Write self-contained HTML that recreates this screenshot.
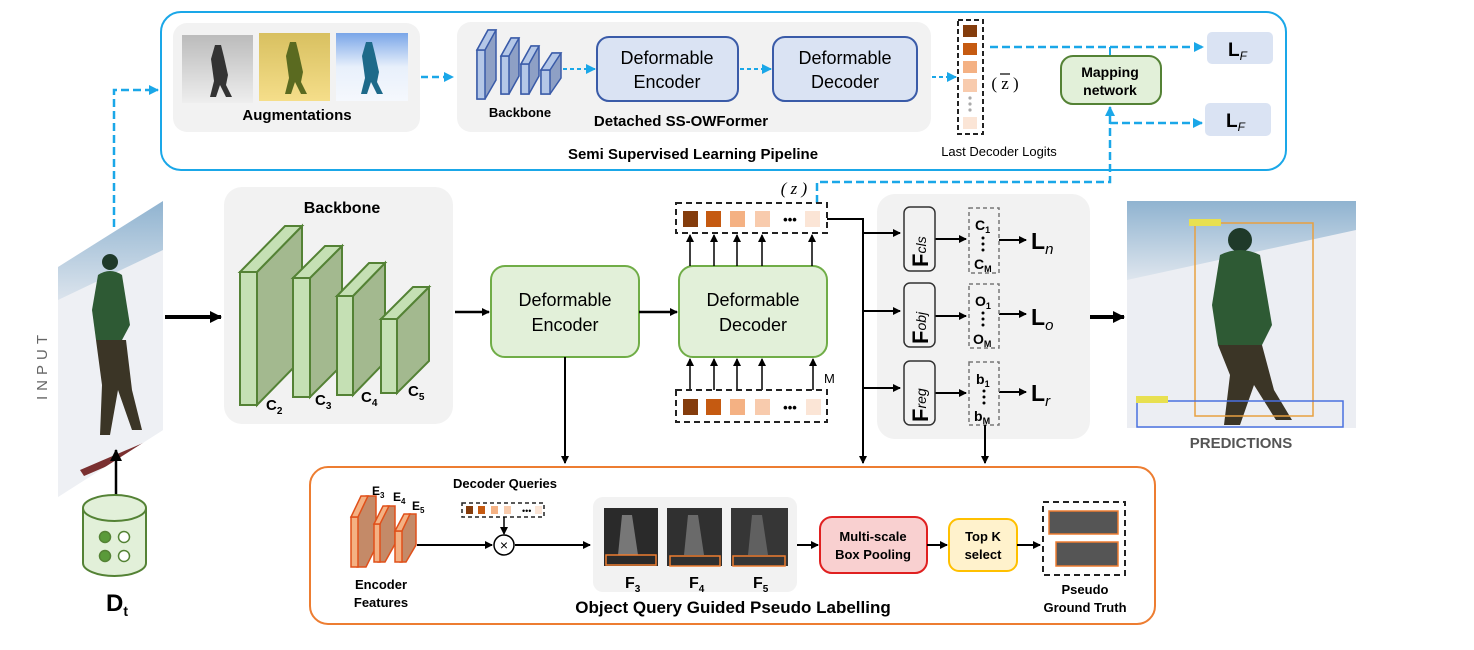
<!DOCTYPE html>
<html><head><meta charset="utf-8"><style>
html,body{margin:0;padding:0;background:#fff;}
svg{display:block;font-family:"Liberation Sans",sans-serif;}
</style></head><body>
<svg width="1474" height="650" viewBox="0 0 1474 650" xmlns="http://www.w3.org/2000/svg">
<defs>
<marker id="ab" markerWidth="8" markerHeight="8" refX="7" refY="4" orient="auto" markerUnits="userSpaceOnUse"><path d="M0,0 L8,4 L0,8 z" fill="#000"/></marker>
<marker id="abb" markerWidth="12" markerHeight="12" refX="11" refY="6" orient="auto" markerUnits="userSpaceOnUse"><path d="M0,0 L12,6 L0,12 z" fill="#000"/></marker>
<marker id="ac" markerWidth="10" markerHeight="10" refX="9" refY="5" orient="auto" markerUnits="userSpaceOnUse"><path d="M0,0 L10,5 L0,10 z" fill="#1aa7e8"/></marker>
<linearGradient id="sky" x1="0" y1="0" x2="0" y2="1"><stop offset="0" stop-color="#8fb3d0"/><stop offset="0.35" stop-color="#dfe6ee"/><stop offset="1" stop-color="#f2f3f7"/></linearGradient>
<linearGradient id="gr" x1="0" y1="0" x2="0" y2="1"><stop offset="0" stop-color="#bbb"/><stop offset="1" stop-color="#eee"/></linearGradient>
<linearGradient id="ye" x1="0" y1="0" x2="0" y2="1"><stop offset="0" stop-color="#d8c060"/><stop offset="1" stop-color="#f5de8a"/></linearGradient>
<linearGradient id="bl" x1="0" y1="0" x2="0" y2="1"><stop offset="0" stop-color="#7aa6e8"/><stop offset="0.5" stop-color="#e8f0fb"/><stop offset="1" stop-color="#f5f8fd"/></linearGradient>
<clipPath id="inp"><polygon points="58,267 163,201 163,430 58,497"/></clipPath>
</defs>

<!-- ===== TOP SSL PIPELINE ===== -->
<rect x="161" y="12" width="1125" height="158" rx="20" fill="#fff" stroke="#1aa7e8" stroke-width="2"/>
<rect x="173" y="23" width="247" height="109" rx="14" fill="#f2f2f2"/>
<rect x="182" y="35" width="71" height="68" fill="url(#gr)"/>
<path d="M215,45 l6,0 l3,12 l4,18 l-2,10 l6,12 l-6,0 l-6,-12 l-4,12 l-6,0 l4,-16 l-3,-22z" fill="#333"/>
<rect x="259" y="33" width="71" height="68" fill="url(#ye)"/>
<path d="M290,42 l6,0 l3,12 l4,18 l-2,10 l6,12 l-6,0 l-6,-12 l-4,12 l-6,0 l4,-16 l-3,-22z" fill="#5a6a20"/>
<rect x="336" y="33" width="72" height="68" fill="url(#bl)"/>
<path d="M366,42 l6,0 l3,12 l4,18 l-2,10 l6,12 l-6,0 l-6,-12 l-4,12 l-6,0 l4,-16 l-3,-22z" fill="#1e6a8a"/>
<text x="297" y="120" font-size="15" font-weight="bold" text-anchor="middle">Augmentations</text>
<line x1="421" y1="77" x2="453" y2="77" stroke="#1aa7e8" stroke-width="2.5" stroke-dasharray="7,4" marker-end="url(#ac)"/>

<rect x="457" y="22" width="474" height="110" rx="14" fill="#f2f2f2"/>
<!-- blue backbone blocks -->
<g stroke="#3a5ba8" stroke-width="1.5">
<polygon points="477,99 477,50 488,30 496,30 496,80 485,99" fill="#8ea0c5"/><rect x="477" y="50" width="8" height="49" fill="#b4c7e7"/><polygon points="477,50 488,30 496,30 485,50" fill="#b4c7e7"/>
<polygon points="501,94 501,56 511,38 519,38 519,76 509,94" fill="#8ea0c5"/><rect x="501" y="56" width="8" height="38" fill="#b4c7e7"/><polygon points="501,56 511,38 519,38 509,56" fill="#b4c7e7"/>
<polygon points="521,94 521,64 531,46 539,46 539,76 529,94" fill="#8ea0c5"/><rect x="521" y="64" width="8" height="30" fill="#b4c7e7"/><polygon points="521,64 531,46 539,46 529,64" fill="#b4c7e7"/>
<polygon points="541,94 541,70 552,53 561,53 561,78 550,94" fill="#8ea0c5"/><rect x="541" y="70" width="9" height="24" fill="#b4c7e7"/><polygon points="541,70 552,53 561,53 550,70" fill="#b4c7e7"/>
</g>
<text x="520" y="117" font-size="13" font-weight="bold" text-anchor="middle">Backbone</text>
<line x1="563" y1="69" x2="595" y2="69" stroke="#1aa7e8" stroke-width="2" stroke-dasharray="4,3" marker-end="url(#ac)"/>
<rect x="597" y="37" width="141" height="64" rx="12" fill="#dae3f3" stroke="#3a5ba8" stroke-width="2"/>
<text x="667" y="64" font-size="18" text-anchor="middle">Deformable</text>
<text x="667" y="88" font-size="18" text-anchor="middle">Encoder</text>
<line x1="740" y1="69" x2="771" y2="69" stroke="#1aa7e8" stroke-width="2" stroke-dasharray="4,3" marker-end="url(#ac)"/>
<rect x="773" y="37" width="144" height="64" rx="12" fill="#dae3f3" stroke="#3a5ba8" stroke-width="2"/>
<text x="845" y="64" font-size="18" text-anchor="middle">Deformable</text>
<text x="845" y="88" font-size="18" text-anchor="middle">Decoder</text>
<text x="681" y="126" font-size="15" font-weight="bold" text-anchor="middle">Detached SS-OWFormer</text>
<text x="693" y="159" font-size="15" font-weight="bold" text-anchor="middle">Semi Supervised Learning Pipeline</text>

<line x1="932" y1="77" x2="956" y2="77" stroke="#1aa7e8" stroke-width="2" stroke-dasharray="4,3" marker-end="url(#ac)"/>
<rect x="958" y="20" width="25" height="114" fill="none" stroke="#222" stroke-width="2" stroke-dasharray="5,3"/>
<rect x="963" y="25" width="14" height="12" fill="#843c0c"/>
<rect x="963" y="43" width="14" height="12" fill="#c55a11"/>
<rect x="963" y="61" width="14" height="12" fill="#f4b183"/>
<rect x="963" y="79" width="14" height="13" fill="#f8cbad"/>
<circle cx="970" cy="98" r="1.6" fill="#aaa"/><circle cx="970" cy="104" r="1.6" fill="#aaa"/><circle cx="970" cy="110" r="1.6" fill="#aaa"/>
<rect x="963" y="117" width="14" height="12" fill="#fbe5d6"/>
<text x="1005" y="89" font-size="17" font-family="Liberation Serif,serif" text-anchor="middle">( z )</text>
<line x1="1000" y1="74" x2="1010" y2="74" stroke="#000" stroke-width="1.2"/>
<text x="999" y="156" font-size="13" text-anchor="middle">Last Decoder Logits</text>

<line x1="990" y1="47" x2="1203" y2="47" stroke="#1aa7e8" stroke-width="2.5" stroke-dasharray="8,4" marker-end="url(#ac)"/>
<line x1="1110" y1="47" x2="1110" y2="56" stroke="#1aa7e8" stroke-width="2"/>
<rect x="1061" y="56" width="100" height="48" rx="12" fill="#e2f0d9" stroke="#548235" stroke-width="2"/>
<text x="1110" y="77" font-size="14" font-weight="bold" text-anchor="middle">Mapping</text>
<text x="1110" y="95" font-size="14" font-weight="bold" text-anchor="middle">network</text>
<rect x="1207" y="32" width="66" height="32" rx="5" fill="#dae3f3"/>
<text x="1228" y="56" font-size="19" font-weight="bold">L<tspan font-size="12" font-style="italic" font-weight="normal" dy="4">F</tspan></text>
<rect x="1205" y="103" width="66" height="33" rx="5" fill="#dae3f3"/>
<text x="1226" y="127" font-size="19" font-weight="bold">L<tspan font-size="12" font-style="italic" font-weight="normal" dy="4">F</tspan></text>
<line x1="1110" y1="123" x2="1202" y2="123" stroke="#1aa7e8" stroke-width="2.5" stroke-dasharray="8,4" marker-end="url(#ac)"/>
<polyline points="817,203 817,182 1110,182 1110,107" fill="none" stroke="#1aa7e8" stroke-width="2.5" stroke-dasharray="8,4" marker-end="url(#ac)"/>

<!-- left dashed -->
<polyline points="114,227 114,90 158,90" fill="none" stroke="#1aa7e8" stroke-width="2.5" stroke-dasharray="8,4" marker-end="url(#ac)"/>

<!-- INPUT image -->
<g clip-path="url(#inp)">
<rect x="58" y="200" width="106" height="300" fill="url(#sky)"/>
<path d="M58,300 L163,250 L163,440 L58,500z" fill="#eef0f4"/>
<circle cx="110" cy="262" r="8" fill="#1f3a2a"/>
<path d="M98,275 q12,-8 24,0 l8,50 l-8,15 l-26,0 l-4,-30z" fill="#2e5a34"/>
<path d="M96,340 l30,0 l6,50 l10,40 l-10,0 l-14,-40 l-8,45 l-10,0 l2,-50z" fill="#3b3526"/>
<path d="M80,470 l70,-30 l4,6 l-70,30z" fill="#7a3030"/>
</g>
<text transform="translate(47,400) rotate(-90)" font-size="15" fill="#666" letter-spacing="5">INPUT</text>

<!-- Dt -->
<line x1="116" y1="495" x2="116" y2="450" stroke="#000" stroke-width="2.5" marker-end="url(#abb)"/>
<path d="M83,508 L83,563 A31.5,13 0 0 0 146,563 L146,508" fill="#e2f0d9" stroke="#548235" stroke-width="2"/>
<ellipse cx="114.5" cy="508" rx="31.5" ry="13" fill="#e2f0d9" stroke="#548235" stroke-width="2"/>
<circle cx="105" cy="537" r="5.5" fill="#5a9a3a" stroke="#548235" stroke-width="1.5"/>
<circle cx="124" cy="537" r="5.5" fill="#fff" stroke="#548235" stroke-width="1.5"/>
<circle cx="105" cy="556" r="5.5" fill="#5a9a3a" stroke="#548235" stroke-width="1.5"/>
<circle cx="124" cy="556" r="5.5" fill="#fff" stroke="#548235" stroke-width="1.5"/>
<text x="106" y="611" font-size="24" font-weight="bold">D<tspan font-size="14" dy="5">t</tspan></text>

<!-- ===== MAIN ===== -->
<line x1="165" y1="317" x2="221" y2="317" stroke="#000" stroke-width="4" marker-end="url(#abb)"/>
<rect x="224" y="187" width="229" height="237" rx="18" fill="#f2f2f2"/>
<text x="342" y="213" font-size="16" font-weight="bold" text-anchor="middle">Backbone</text>
<g stroke="#548235" stroke-width="2">
<polygon points="257,272 302,226 302,359 257,405" fill="#a3b98f"/><polygon points="240,272 285,226 302,226 257,272" fill="#c5e0b4"/><rect x="240" y="272" width="17" height="133" fill="#c5e0b4"/>
<polygon points="310,278 342,246 342,365 310,397" fill="#a3b98f"/><polygon points="293,278 325,246 342,246 310,278" fill="#c5e0b4"/><rect x="293" y="278" width="17" height="119" fill="#c5e0b4"/>
<polygon points="353,296 385,263 385,362 353,395" fill="#a3b98f"/><polygon points="337,296 369,263 385,263 353,296" fill="#c5e0b4"/><rect x="337" y="296" width="16" height="99" fill="#c5e0b4"/>
<polygon points="397,319 429,287 429,361 397,393" fill="#a3b98f"/><polygon points="381,319 413,287 429,287 397,319" fill="#c5e0b4"/><rect x="381" y="319" width="16" height="74" fill="#c5e0b4"/>
</g>
<g font-size="15" font-weight="bold">
<text x="266" y="410">C<tspan font-size="10" dy="4">2</tspan></text>
<text x="315" y="405">C<tspan font-size="10" dy="4">3</tspan></text>
<text x="361" y="402">C<tspan font-size="10" dy="4">4</tspan></text>
<text x="408" y="396">C<tspan font-size="10" dy="4">5</tspan></text>
</g>
<line x1="455" y1="312" x2="489" y2="312" stroke="#000" stroke-width="2.5" marker-end="url(#ab)"/>
<rect x="491" y="266" width="148" height="91" rx="14" fill="#e2f0d9" stroke="#70ad47" stroke-width="2"/>
<text x="565" y="306" font-size="18" text-anchor="middle">Deformable</text>
<text x="565" y="331" font-size="18" text-anchor="middle">Encoder</text>
<line x1="639" y1="312" x2="677" y2="312" stroke="#000" stroke-width="2.5" marker-end="url(#ab)"/>
<rect x="679" y="266" width="148" height="91" rx="14" fill="#e2f0d9" stroke="#70ad47" stroke-width="2"/>
<text x="753" y="306" font-size="18" text-anchor="middle">Deformable</text>
<text x="753" y="331" font-size="18" text-anchor="middle">Decoder</text>

<!-- query boxes -->
<text x="794" y="194" font-size="17" font-family="Liberation Serif,serif" font-style="italic" text-anchor="middle">( z )</text>
<rect x="676" y="203" width="151" height="30" fill="none" stroke="#222" stroke-width="2" stroke-dasharray="6,4"/>
<rect x="683" y="211" width="15" height="16" fill="#843c0c"/>
<rect x="706" y="211" width="15" height="16" fill="#c55a11"/>
<rect x="730" y="211" width="15" height="16" fill="#f4b183"/>
<rect x="755" y="211" width="15" height="16" fill="#f8cbad"/>
<text x="790" y="224" font-size="13" font-weight="bold" text-anchor="middle">•••</text>
<rect x="805" y="211" width="15" height="16" fill="#fbe5d6"/>
<g stroke="#000" stroke-width="1.5" marker-end="url(#ab)">
<line x1="690" y1="266" x2="690" y2="235"/><line x1="714" y1="266" x2="714" y2="235"/><line x1="737" y1="266" x2="737" y2="235"/><line x1="762" y1="266" x2="762" y2="235"/><line x1="812" y1="266" x2="812" y2="235"/>
<line x1="690" y1="390" x2="690" y2="359"/><line x1="714" y1="390" x2="714" y2="359"/><line x1="737" y1="390" x2="737" y2="359"/><line x1="762" y1="390" x2="762" y2="359"/><line x1="813" y1="390" x2="813" y2="359"/>
</g>
<text x="824" y="383" font-size="13">M</text>
<rect x="676" y="390" width="151" height="32" fill="none" stroke="#222" stroke-width="2" stroke-dasharray="6,4"/>
<rect x="683" y="399" width="15" height="16" fill="#843c0c"/>
<rect x="706" y="399" width="15" height="16" fill="#c55a11"/>
<rect x="730" y="399" width="15" height="16" fill="#f4b183"/>
<rect x="755" y="399" width="15" height="16" fill="#f8cbad"/>
<text x="790" y="412" font-size="13" font-weight="bold" text-anchor="middle">•••</text>
<rect x="806" y="399" width="15" height="16" fill="#fbe5d6"/>

<!-- heads -->
<polyline points="827,219 863,219 863,463" fill="none" stroke="#000" stroke-width="2" marker-end="url(#ab)"/>
<rect x="877" y="194" width="213" height="245" rx="18" fill="#f2f2f2"/>
<g stroke="#000" stroke-width="2" marker-end="url(#ab)">
<line x1="863" y1="233" x2="900" y2="233"/><line x1="863" y1="311" x2="900" y2="311"/><line x1="863" y1="388" x2="900" y2="388"/>
<line x1="935" y1="239" x2="966" y2="239"/><line x1="935" y1="316" x2="966" y2="316"/><line x1="935" y1="393" x2="966" y2="393"/>
<line x1="999" y1="240" x2="1026" y2="240"/><line x1="999" y1="314" x2="1026" y2="314"/><line x1="999" y1="392" x2="1026" y2="392"/>
</g>
<g fill="#f2f2f2" stroke="#333" stroke-width="1.5">
<rect x="904" y="207" width="31" height="64" rx="6"/>
<rect x="904" y="283" width="31" height="64" rx="6"/>
<rect x="904" y="361" width="31" height="64" rx="6"/>
</g>
<g font-size="22" font-weight="bold">
<text transform="translate(928,267) rotate(-90)">F<tspan font-size="14" font-weight="normal" font-style="italic" dy="-2">cls</tspan></text>
<text transform="translate(928,344) rotate(-90)">F<tspan font-size="14" font-weight="normal" font-style="italic" dy="-2">obj</tspan></text>
<text transform="translate(928,422) rotate(-90)">F<tspan font-size="14" font-weight="normal" font-style="italic" dy="-2">reg</tspan></text>
</g>
<g fill="none" stroke="#777" stroke-width="1.5" stroke-dasharray="4,3">
<rect x="969" y="208" width="30" height="65"/><rect x="969" y="284" width="30" height="64"/><rect x="969" y="362" width="30" height="63"/>
</g>
<g font-size="14" font-weight="bold">
<text x="975" y="230">C<tspan font-size="9" dy="3">1</tspan></text>
<text x="974" y="269">C<tspan font-size="9" dy="3">M</tspan></text>
<text x="975" y="306">O<tspan font-size="9" dy="3">1</tspan></text>
<text x="973" y="344">O<tspan font-size="9" dy="3">M</tspan></text>
<text x="976" y="384">b<tspan font-size="9" dy="3">1</tspan></text>
<text x="974" y="421">b<tspan font-size="9" dy="3">M</tspan></text>
</g>
<g fill="#000"><circle cx="983" cy="238" r="1.5"/><circle cx="983" cy="244" r="1.5"/><circle cx="983" cy="250" r="1.5"/>
<circle cx="983" cy="313" r="1.5"/><circle cx="983" cy="319" r="1.5"/><circle cx="983" cy="325" r="1.5"/>
<circle cx="984" cy="391" r="1.5"/><circle cx="984" cy="397" r="1.5"/><circle cx="984" cy="403" r="1.5"/></g>
<g font-size="23" font-weight="bold">
<text x="1031" y="249">L<tspan font-size="15" font-weight="normal" font-style="italic" dy="5">n</tspan></text>
<text x="1031" y="325">L<tspan font-size="15" font-weight="normal" font-style="italic" dy="5">o</tspan></text>
<text x="1031" y="401">L<tspan font-size="15" font-weight="normal" font-style="italic" dy="5">r</tspan></text>
</g>
<line x1="985" y1="425" x2="985" y2="463" stroke="#000" stroke-width="2" marker-end="url(#ab)"/>
<line x1="1090" y1="317" x2="1124" y2="317" stroke="#000" stroke-width="4" marker-end="url(#abb)"/>

<!-- predictions -->
<rect x="1127" y="201" width="229" height="227" fill="url(#sky)"/>
<path d="M1127,280 L1356,230 L1356,428 L1127,428z" fill="#eceef3"/>
<circle cx="1240" cy="240" r="12" fill="#1f3a2a"/>
<path d="M1220,255 q20,-10 40,0 l12,70 l-10,20 l-44,0 l-6,-40z" fill="#2e5a34"/>
<path d="M1218,345 l44,0 l12,45 l18,30 l-16,0 l-22,-35 l-14,40 l-16,0 l6,-50z" fill="#3b3526"/>
<rect x="1195" y="223" width="118" height="193" fill="none" stroke="#e8a040" stroke-width="1.5"/>
<rect x="1189" y="219" width="32" height="7" fill="#e8e050"/>
<rect x="1137" y="401" width="206" height="26" fill="none" stroke="#4a70e0" stroke-width="1.5"/>
<rect x="1136" y="396" width="32" height="7" fill="#e8e050"/>
<text x="1241" y="448" font-size="15" font-weight="bold" fill="#555" text-anchor="middle">PREDICTIONS</text>

<!-- ===== BOTTOM ===== -->
<line x1="565" y1="357" x2="565" y2="463" stroke="#000" stroke-width="2" marker-end="url(#ab)"/>
<rect x="310" y="467" width="845" height="157" rx="18" fill="#fff" stroke="#ed7d31" stroke-width="2"/>
<g stroke="#e0501a" stroke-width="1.5">
<polygon points="357,567 357,517 366,496 376,496 376,547 366,567" fill="#c48a68"/><rect x="351" y="517" width="7" height="50" fill="#f4b183"/><polygon points="351,517 361,496 368,496 358,517" fill="#f4b183"/>
<polygon points="378,562 378,524 387,506 395,506 395,544 385,562" fill="#c48a68"/><rect x="374" y="524" width="6" height="38" fill="#f4b183"/><polygon points="374,524 383,506 389,506 380,524" fill="#f4b183"/>
<polygon points="400,562 400,531 409,514 416,514 416,545 406,562" fill="#c48a68"/><rect x="395" y="531" width="7" height="31" fill="#f4b183"/><polygon points="395,531 404,514 410,514 402,531" fill="#f4b183"/>
</g>
<g font-size="12" font-weight="bold">
<text x="372" y="495">E<tspan font-size="8" dy="3">3</tspan></text>
<text x="393" y="501">E<tspan font-size="8" dy="3">4</tspan></text>
<text x="412" y="510">E<tspan font-size="8" dy="3">5</tspan></text>
</g>
<text x="381" y="589" font-size="13" font-weight="bold" text-anchor="middle">Encoder</text>
<text x="381" y="607" font-size="13" font-weight="bold" text-anchor="middle">Features</text>
<text x="505" y="488" font-size="13" font-weight="bold" text-anchor="middle">Decoder Queries</text>
<rect x="462" y="503" width="82" height="14" fill="none" stroke="#222" stroke-width="1.5" stroke-dasharray="4,3"/>
<rect x="466" y="506" width="7" height="8" fill="#843c0c"/><rect x="478" y="506" width="7" height="8" fill="#c55a11"/><rect x="491" y="506" width="7" height="8" fill="#f4b183"/><rect x="504" y="506" width="7" height="8" fill="#f8cbad"/>
<text x="522" y="514" font-size="9">•••</text><rect x="535" y="506" width="7" height="8" fill="#fbe5d6"/>
<line x1="504" y1="517" x2="504" y2="534" stroke="#000" stroke-width="1.5" marker-end="url(#ab)"/>
<circle cx="504" cy="545" r="10" fill="#fff" stroke="#000" stroke-width="1.5"/>
<text x="504" y="550" font-size="14" text-anchor="middle">×</text>
<line x1="417" y1="545" x2="492" y2="545" stroke="#000" stroke-width="2" marker-end="url(#ab)"/>
<line x1="515" y1="545" x2="590" y2="545" stroke="#000" stroke-width="2" marker-end="url(#ab)"/>
<rect x="593" y="497" width="204" height="95" rx="10" fill="#f2f2f2"/>
<rect x="604" y="508" width="54" height="58" fill="#2a2a2a"/><path d="M622,515 l10,0 l6,40 l-20,0z" fill="#777"/>
<rect x="667" y="508" width="55" height="58" fill="#303030"/><path d="M688,515 l10,0 l6,40 l-20,0z" fill="#6a6a6a"/>
<rect x="731" y="508" width="57" height="58" fill="#363636"/><path d="M752,515 l10,0 l6,40 l-20,0z" fill="#606060"/>
<g fill="none" stroke="#ed7d31" stroke-width="1.5"><rect x="606" y="555" width="50" height="10"/><rect x="670" y="556" width="50" height="10"/><rect x="733" y="556" width="52" height="10"/></g>
<g font-size="16" font-weight="bold">
<text x="625" y="588">F<tspan font-size="10" dy="4">3</tspan></text>
<text x="689" y="588">F<tspan font-size="10" dy="4">4</tspan></text>
<text x="753" y="588">F<tspan font-size="10" dy="4">5</tspan></text>
</g>
<text x="733" y="613" font-size="17" font-weight="bold" text-anchor="middle">Object Query Guided Pseudo Labelling</text>
<line x1="797" y1="545" x2="818" y2="545" stroke="#000" stroke-width="2" marker-end="url(#ab)"/>
<rect x="820" y="517" width="107" height="56" rx="12" fill="#f9d0d0" stroke="#e02020" stroke-width="2"/>
<text x="873" y="541" font-size="13" font-weight="bold" text-anchor="middle">Multi-scale</text>
<text x="873" y="559" font-size="13" font-weight="bold" text-anchor="middle">Box Pooling</text>
<line x1="927" y1="545" x2="947" y2="545" stroke="#000" stroke-width="2" marker-end="url(#ab)"/>
<rect x="949" y="519" width="68" height="52" rx="10" fill="#fff2cc" stroke="#ffc000" stroke-width="2"/>
<text x="983" y="541" font-size="13" font-weight="bold" text-anchor="middle">Top K</text>
<text x="983" y="559" font-size="13" font-weight="bold" text-anchor="middle">select</text>
<line x1="1017" y1="545" x2="1040" y2="545" stroke="#000" stroke-width="2" marker-end="url(#ab)"/>
<rect x="1043" y="502" width="82" height="73" fill="none" stroke="#222" stroke-width="2" stroke-dasharray="6,4"/>
<rect x="1049" y="511" width="69" height="23" fill="#555" stroke="#ed7d31" stroke-width="1.5"/>
<rect x="1056" y="542" width="62" height="24" fill="#555" stroke="#ed7d31" stroke-width="1.5"/>
<text x="1085" y="594" font-size="13" font-weight="bold" text-anchor="middle">Pseudo</text>
<text x="1085" y="612" font-size="13" font-weight="bold" text-anchor="middle">Ground Truth</text>
</svg>
</body></html>
